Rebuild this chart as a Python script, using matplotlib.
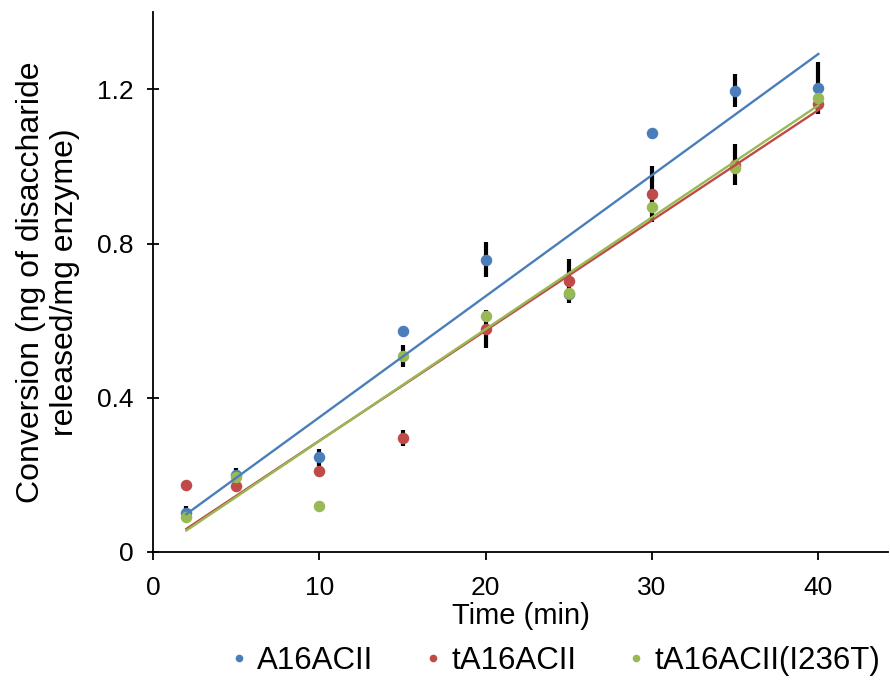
import numpy as np
import matplotlib.pyplot as plt
from matplotlib.lines import Line2D

plt.rcParams['font.family'] = ['Liberation Sans', 'DejaVu Sans']

# time points (min)
time = [2, 5, 10, 15, 20, 25, 30, 35, 40]

# conversion values
a16 = [0.102, 0.200, 0.246, 0.574, 0.758, 0.670, 1.086, 1.197, 1.203]
ta16 = [0.174, 0.170, 0.211, 0.296, 0.578, 0.704, 0.928, 1.005, 1.163]
ta16_mut = [0.090, 0.194, 0.120, 0.509, 0.611, 0.672, 0.894, 0.995, 1.177]

# error bar half-lengths
a16_err = [0.018, 0.018, 0.022, 0.0, 0.045, 0.0, 0.0, 0.042, 0.067]
ta16_err = [0.0, 0.0, 0.0, 0.02, 0.05, 0.057, 0.073, 0.053, 0.0]
ta16_mut_err = [0.0, 0.0, 0.0, 0.028, 0.0, 0.0, 0.0, 0.0, 0.0]

names = ['A16ACII', 'tA16ACII', 'tA16ACII(I236T)']
colors = ['#4A7EBB', '#BE4B48', '#98B954']

fig = plt.figure(figsize=(8.9, 6.84), dpi=100)
ax = fig.add_axes([0.172, 0.193, 0.826, 0.789])

series = [(a16, a16_err), (ta16, ta16_err), (ta16_mut, ta16_mut_err)]
x = np.array(time)
for (vals, err), c in zip(series, colors):
    ax.errorbar(x, vals, yerr=err, fmt='none', ecolor='black', elinewidth=3,
                capsize=0, zorder=2)
    ax.plot(x, vals, 'o', color=c, markersize=8.3, markeredgewidth=0, zorder=3)

# linear trend lines
for (vals, err), c in zip(series, colors):
    k, b = np.polyfit(x, vals, 1)
    xs = np.array([x.min(), x.max()])
    ax.plot(xs, k * xs + b, color=c, lw=1.7, zorder=4)

ax.set_xlim(0, 44.2)
ax.set_ylim(0, 1.4)
ax.set_xticks([0, 10, 20, 30, 40])
ax.set_yticks([0, 0.4, 0.8, 1.2])
ax.set_yticklabels(['0', '0.4', '0.8', '1.2'])
for side in ['top', 'right']:
    ax.spines[side].set_visible(False)
for side in ['left', 'bottom']:
    ax.spines[side].set_linewidth(1.3)
ax.tick_params(axis='y', labelsize=19, width=1.3, length=8,
               direction='inout', pad=10)
ax.tick_params(axis='x', labelsize=19, width=1.3, length=6,
               direction='out', pad=11)

ax.set_xlabel('Time (min)', fontsize=21, labelpad=2)
ax.set_ylabel('Conversion (ng of disaccharide\nreleased/mg enzyme)',
              fontsize=23, labelpad=12)

handles = [Line2D([], [], marker='o', ls='', color=c, markersize=5.5,
                  markeredgewidth=0) for c in colors]
fig.legend(handles, names, loc='center', bbox_to_anchor=(0.62, 0.034),
           ncol=3, frameon=False, fontsize=22.5, handletextpad=0.1,
           columnspacing=1.4, handlelength=1)

fig.savefig('out.png', dpi=100)
